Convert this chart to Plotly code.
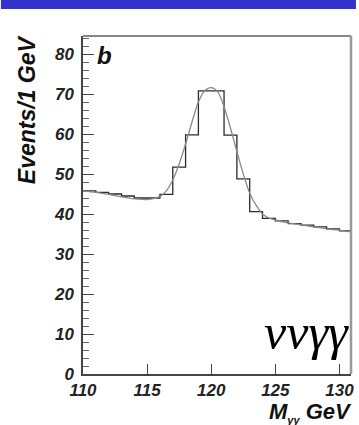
import plotly.graph_objects as go

# Histogram: 1 GeV bins from 110 to 131 (left edges)
bin_edges_left = [110, 111, 112, 113, 114, 115, 116, 117, 118, 119, 120,
                  121, 122, 123, 124, 125, 126, 127, 128, 129, 130]
bin_counts = [45.8, 45.4, 45.0, 44.5, 44.0, 44.0, 44.9, 51.7, 59.8, 70.8, 70.8,
              59.7, 48.8, 40.6, 38.9, 38.3, 37.6, 37.2, 36.8, 36.3, 35.8]
bin_end = 131

# Fit curve
fit_x = [110, 111, 112, 113, 114, 115, 116, 116.5, 117, 117.5, 118, 118.5, 119, 119.5,
         120, 120.5, 121, 121.5, 122, 122.5, 123, 123.5, 124, 124.5, 125, 126, 127,
         128, 129, 130, 131]
fit_y = [45.8, 45.4, 44.9, 44.3, 43.8, 43.6, 44.4, 45.8, 48.5, 52.5, 57.5, 63.0, 68.0, 70.9,
         71.6, 70.6, 66.8, 61.5, 55.6, 50.0, 45.2, 42.2, 40.0, 39.0, 38.5, 37.8, 37.3,
         36.8, 36.3, 35.9, 35.5]

x_ticks = [110, 115, 120, 125, 130]
y_ticks = [0, 10, 20, 30, 40, 50, 60, 70, 80]

W, H = 359, 425
L, R, T, B = 83, 5, 36, 51

fig = go.Figure()
fig.add_trace(go.Scatter(
    x=bin_edges_left + [bin_end], y=bin_counts + [bin_counts[-1]],
    mode="lines", line=dict(shape="hv", color="#2a2a2a", width=1.3),
    hoverinfo="skip", showlegend=False))
fig.add_trace(go.Scatter(
    x=fit_x, y=fit_y, mode="lines",
    line=dict(shape="spline", smoothing=0.8, color="#8a8a8a", width=1.3),
    hoverinfo="skip", showlegend=False))

tickfont = dict(family="Liberation Sans", size=17, color="#222", weight="bold", style="italic")

fig.update_layout(
    width=W, height=H,
    margin=dict(l=L, r=R, t=T, b=B),
    paper_bgcolor="white", plot_bgcolor="white",
    xaxis=dict(range=[110, 130.9], tickvals=x_ticks, ticktext=[str(v) for v in x_ticks],
               ticks="inside", ticklen=10, tickwidth=1, tickcolor="#444",
               showline=True, linecolor="#444", linewidth=1.5, mirror=False,
               showgrid=False, zeroline=False, tickfont=tickfont, ticklabelstandoff=0),
    yaxis=dict(range=[0, 84.5], tickvals=y_ticks, ticktext=[str(v) for v in y_ticks],
               ticks="inside", ticklen=11, tickwidth=1, tickcolor="#444",
               minor=dict(dtick=2, ticks="inside", ticklen=6, tickcolor="#666", tickwidth=1),
               showline=True, linecolor="#444", linewidth=1.5,
               showgrid=False, zeroline=False, tickfont=tickfont, ticklabelstandoff=4),
    shapes=[
        dict(type="rect", xref="paper", yref="paper", x0=-L / (W - L - R), x1=1 + R / (W - L - R),
             y0=1 + (T - 9) / (H - T - B), y1=1 + T / (H - T - B),
             fillcolor="rgb(51,51,204)", line=dict(width=0), layer="above"),
        dict(type="line", xref="paper", yref="paper", x0=0, x1=1, y0=1, y1=1,
             line=dict(color="#111", width=1.2)),
        dict(type="line", xref="paper", yref="paper", x0=1, x1=1, y0=0, y1=1,
             line=dict(color="#999", width=2.5)),
    ],
    annotations=[
        dict(text="Events/1 GeV", xref="paper", yref="paper",
             x=-(L - 26) / (W - L - R), y=1 + (T - 33) / (H - T - B),
             xanchor="center", yanchor="top", textangle=-90, showarrow=False,
             font=dict(family="Liberation Sans", size=23, color="#111", weight="bold", style="italic")),
        dict(text="M<sub><span style='font-size:11px'>γγ</span></sub> GeV", xref="paper", yref="paper",
             x=1 + 3 / (W - L - R), y=-(412.5 - 374) / (H - T - B), xanchor="right", yanchor="middle",
             showarrow=False,
             font=dict(family="Liberation Sans", size=22, color="#111", weight="bold", style="italic")),
        dict(text="b", xref="paper", yref="paper",
             x=(95 - L) / (W - L - R), y=1 - (56 - T) / (H - T - B),
             xanchor="left", yanchor="middle", showarrow=False,
             font=dict(family="Liberation Sans", size=24, color="#111", weight="bold", style="italic")),
        dict(text="ννγγ", xref="paper", yref="paper",
             x=(354 - L) / (W - L - R), y=(374 - 362) / (H - T - B),
             xanchor="right", yanchor="bottom", showarrow=False,
             font=dict(family="Liberation Serif", size=50, color="#000", style="italic")),
    ],
)

fig.write_html("out.html")
